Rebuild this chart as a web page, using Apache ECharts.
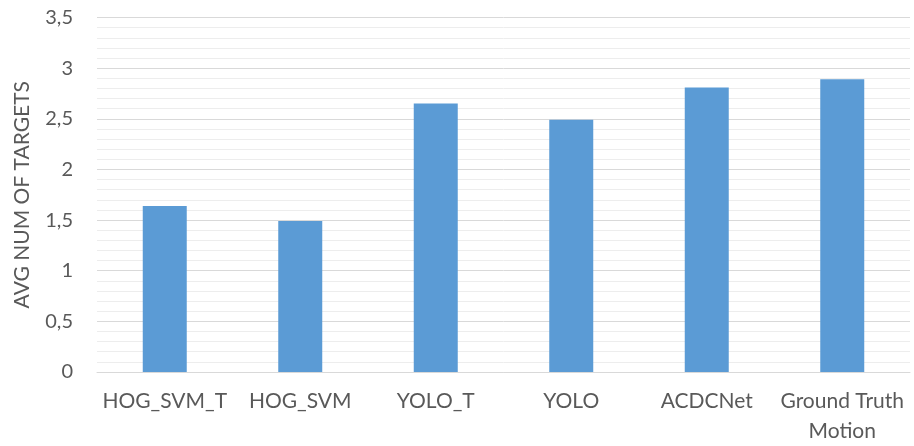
<!DOCTYPE html>
<html>
<head>
<meta charset="utf-8">
<script src="https://cdn.jsdelivr.net/npm/echarts@6/dist/echarts.min.js"></script>
<style>
html,body{margin:0;padding:0;background:#fff;}
#chart{width:914px;height:446px;}
</style>
</head>
<body>
<div id="chart"></div>
<script>
const categories = ['HOG_SVM_T', 'HOG_SVM', 'YOLO_T', 'YOLO', 'ACDCNet', 'Ground Truth\nMotion'];
const avgTargets = [1.64, 1.49, 2.65, 2.49, 2.81, 2.89];
const yTicks = { min: 0, max: 3.5, interval: 0.5 };
const yAxisTitle = 'AVG NUM OF TARGETS';

const chart = echarts.init(document.getElementById('chart'));
const textColor = '#595959';
const font = 'Lato, "Open Sans", sans-serif';
chart.setOption({
  animation: false,
  grid: { left: 97, right: 4, top: 17.5, bottom: 74, outerBoundsMode: 'none' },
  xAxis: {
    type: 'category',
    data: categories,
    axisLine: { show: true, lineStyle: { color: '#D9D9D9', width: 1 } },
    axisTick: { show: false },
    axisLabel: { color: textColor, fontFamily: font, fontSize: 21, margin: 14, lineHeight: 30, interval: 0 }
  },
  yAxis: {
    type: 'value',
    min: yTicks.min, max: yTicks.max, interval: yTicks.interval,
    name: yAxisTitle,
    nameLocation: 'middle',
    nameGap: 64,
    nameTextStyle: { color: textColor, fontFamily: font, fontSize: 21 },
    axisLine: { show: false },
    axisTick: { show: false },
    axisLabel: {
      color: textColor, fontFamily: font, fontSize: 20, margin: 24,
      formatter: v => String(v).replace('.', ',')
    },
    splitLine: { show: true, lineStyle: { color: '#D9D9D9', width: 1 } },
    minorTick: { show: false, splitNumber: 5 },
    minorSplitLine: { show: true, lineStyle: { color: '#EDEDED', width: 1 } }
  },
  series: [{
    type: 'bar',
    data: avgTargets,
    barWidth: 44,
    itemStyle: { color: '#5B9BD5' }
  }]
});
</script>
</body>
</html>
